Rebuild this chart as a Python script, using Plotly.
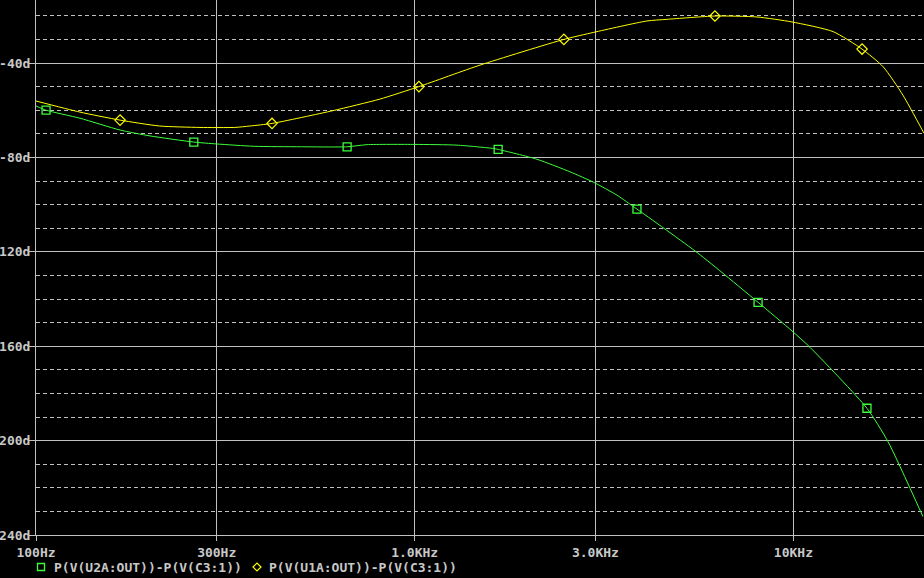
import plotly.graph_objects as go

# ---- data ----
green_freq = [100, 106.3, 130.6, 166.7, 200, 261, 300, 377, 500, 663, 748, 1000, 1293, 1611, 1661,
              2104, 2570, 2973, 3420, 3863, 5600, 8067, 9910, 11066, 15640, 17780, 21980]
green_deg = [-58.2, -60.0, -63.4, -68.4, -70.9, -73.5, -74.3, -75.3, -75.5, -75.5, -74.6, -74.5, -74.8, -76.2, -76.6,
             -80.8, -86.1, -90.6, -96.0, -101.9, -120.6, -141.4, -153.5, -160.5, -186.3, -200.5, -232.2]
green_mk_freq = [106.3, 261, 663, 1661, 3863, 8067, 15640]
green_mk_deg = [-60.0, -73.5, -75.5, -76.6, -101.9, -141.4, -186.3]

yellow_freq = [100, 130.6, 166.7, 212, 271, 335, 367, 420, 608, 809, 1026, 1487, 2477, 2973,
               4103, 4634, 6205, 8015, 9910, 12730, 15180, 17260, 19460, 22130]
yellow_deg = [-56.1, -60.8, -64.2, -66.7, -67.3, -67.3, -66.7, -65.6, -60.2, -55.3, -50.0, -40.9, -30.0, -27.0,
              -22.2, -21.5, -20.1, -20.5, -22.6, -26.7, -34.1, -41.6, -53.6, -69.8]
yellow_mk_freq = [166.7, 420, 1026, 2477, 6205, 15180]
yellow_mk_deg = [-64.2, -65.6, -50.0, -30.0, -20.1, -34.1]

x_tickvals = [100, 300, 1000, 3000, 10000]
x_ticktext = ["100Hz", "300Hz", "1.0KHz", "3.0KHz", "10KHz"]
y_tickvals = [-40, -80, -120, -160, -200, -240]
y_ticktext = ["-40d", "-80d", "-120d", "-160d", "-200d", "-240d"]

legend_names = ["P(V(U2A:OUT))-P(V(C3:1))", "P(V(U1A:OUT))-P(V(C3:1))"]

GREEN = "#3cff3c"
YELLOW = "#ffff00"
GRID = "#c0c0c0"
TXT = "#c8c8c8"
FONT = dict(family="DejaVu Sans Mono", size=13, color=TXT, weight="bold")

W, H = 924, 578
ML, MR, MT = 36, 0, 0
MB = H - 535
PW, PH = W - ML - MR, H - MT - MB

deg_per_px = 40 / 94.4
decade_px = 378.7

fig = go.Figure()
fig.add_trace(go.Scatter(x=green_freq, y=green_deg, mode="lines",
                         line=dict(color=GREEN, width=1, shape="spline", smoothing=0.6),
                         showlegend=False, hoverinfo="skip"))
fig.add_trace(go.Scatter(x=green_mk_freq, y=green_mk_deg, mode="markers",
                         marker=dict(symbol="square-open", size=8, color=GREEN, line=dict(width=1.3)),
                         showlegend=False, hoverinfo="skip"))
fig.add_trace(go.Scatter(x=yellow_freq, y=yellow_deg, mode="lines",
                         line=dict(color=YELLOW, width=1, shape="spline", smoothing=0.6),
                         showlegend=False, hoverinfo="skip"))
fig.add_trace(go.Scatter(x=yellow_mk_freq, y=yellow_mk_deg, mode="markers",
                         marker=dict(symbol="diamond-open", size=8, color=YELLOW, line=dict(width=1.2)),
                         showlegend=False, hoverinfo="skip"))

fig.update_xaxes(type="log", range=[2, 2 + PW / decade_px], automargin=False,
                 tickvals=x_tickvals, ticktext=x_ticktext, tickfont=FONT,
                 showgrid=True, gridcolor=GRID, gridwidth=1,
                 ticks="outside", ticklen=5, tickcolor=GRID,
                 showline=True, linecolor=GRID, linewidth=1, zeroline=False)
fig.update_yaxes(range=[-240, -240 + PH * deg_per_px], automargin=False,
                 tickvals=y_tickvals, ticktext=y_ticktext, tickfont=FONT,
                 ticklabelstandoff=-4,
                 showgrid=True, gridcolor=GRID, gridwidth=1,
                 ticks="outside", ticklen=6, tickcolor=GRID,
                 showline=True, linecolor=GRID, linewidth=1, zeroline=False,
                 minor=dict(tickmode="linear", tick0=0, dtick=10, showgrid=True,
                            gridcolor=GRID, griddash="4px,3px", gridwidth=1, ticks=""))

def px2paper(px, py):
    return (px - ML) / PW, (H - MB - py) / PH

# legend built from shapes + annotations
ly = 567
sx, sy = px2paper(41, ly)
fig.add_shape(type="rect", xref="paper", yref="paper", xsizemode="pixel", ysizemode="pixel",
              xanchor=sx, yanchor=sy, x0=-3.5, x1=3.5, y0=-3.5, y1=3.5,
              line=dict(color=GREEN, width=1.3))
dx, dy = px2paper(257, ly)
fig.add_shape(type="path", xref="paper", yref="paper", xsizemode="pixel", ysizemode="pixel",
              xanchor=dx, yanchor=dy, path="M -4 0 L 0 4 L 4 0 L 0 -4 Z",
              line=dict(color=YELLOW, width=1.2))
for name, pxs in zip(legend_names, [52, 267]):
    ax, ay = px2paper(pxs, ly)
    fig.add_annotation(text=name, xref="paper", yref="paper", x=ax, y=ay,
                       xanchor="left", yanchor="middle", showarrow=False, font=FONT)

fig.update_layout(width=W, height=H, margin=dict(l=ML, r=MR, t=MT, b=MB, autoexpand=False),
                  paper_bgcolor="black", plot_bgcolor="black", showlegend=False)

# remove the browser's default 8px body margin so the chart sits at the page origin
fig.write_html("out.html", config={"displayModeBar": False},
               post_script="document.body.style.margin='0';document.body.style.background='black';")
